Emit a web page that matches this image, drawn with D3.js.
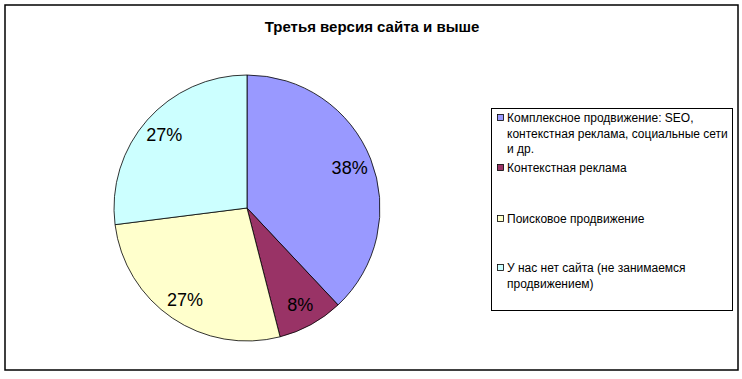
<!DOCTYPE html>
<html>
<head>
<meta charset="utf-8">
<script src="https://cdn.jsdelivr.net/npm/d3@7/dist/d3.min.js"></script>
<style>
  body { margin: 0; background: #fff; }
  text { font-family: "Liberation Sans", Arial, sans-serif; }
</style>
</head>
<body>
<script>
// pie chart: share of promotion types, third site version and up
const title = "Третья версия сайта и выше";
const categories = [
  "Комплексное продвижение: SEO, контекстная реклама, социальные сети и др.",
  "Контекстная реклама",
  "Поисковое продвижение",
  "У нас нет сайта (не занимаемся продвижением)"
];
const values = [38, 8, 27, 27];
const colors = ["#9999FF", "#993366", "#FFFFCC", "#CCFFFF"];
// legend text broken into lines as in the picture
const legendLines = [
  ["Комплексное продвижение: SEO,", "контекстная реклама, социальные сети", "и др."],
  ["Контекстная реклама"],
  ["Поисковое продвижение"],
  ["У нас нет сайта (не занимаемся", "продвижением)"]
];

const width = 742, height = 379;
const svg = d3.select("body").append("svg")
  .attr("width", width)
  .attr("height", height);

// outer frame
svg.append("rect")
  .attr("x", 5).attr("y", 5)
  .attr("width", 733).attr("height", 365)
  .attr("fill", "#fff")
  .attr("stroke", "#000")
  .attr("stroke-width", 1.5);

svg.append("text")
  .attr("x", 372).attr("y", 32)
  .attr("text-anchor", "middle")
  .attr("font-size", "15px")
  .attr("font-weight", "bold")
  .text(title);

const cx = 247, cy = 208, r = 133;
const pie = d3.pie().sort(null).value(d => d);
const arc = d3.arc().innerRadius(0).outerRadius(r);
const labelArc = d3.arc().innerRadius(r * 0.83).outerRadius(r * 0.83);

const g = svg.append("g").attr("transform", `translate(${cx},${cy})`);
const arcs = pie(values);

g.selectAll("path")
  .data(arcs)
  .join("path")
  .attr("d", arc)
  .attr("fill", (d, i) => colors[i])
  .attr("stroke", "#000")
  .attr("stroke-width", 0.8);

g.selectAll("text.pct")
  .data(arcs)
  .join("text")
  .attr("class", "pct")
  .attr("transform", d => `translate(${labelArc.centroid(d)})`)
  .attr("text-anchor", "middle")
  .attr("dy", "0.36em")
  .attr("font-size", "18px")
  .text(d => d.data + "%");

// legend
const lg = svg.append("g");
lg.append("rect")
  .attr("x", 491.5).attr("y", 108.5)
  .attr("width", 241).attr("height", 202)
  .attr("fill", "#fff")
  .attr("stroke", "#000")
  .attr("stroke-width", 1);

const itemY = [118, 168, 219, 268];
const lineH = 15.5;
legendLines.forEach((lines, i) => {
  lg.append("rect")
    .attr("x", 497.5).attr("y", itemY[i] - 3.5)
    .attr("width", 6).attr("height", 6)
    .attr("fill", colors[i])
    .attr("stroke", "#000")
    .attr("stroke-width", 0.8);
  const t = lg.append("text")
    .attr("x", 507)
    .attr("y", itemY[i])
    .attr("font-size", "12px");
  lines.forEach((s, k) => {
    t.append("tspan")
      .attr("x", 507)
      .attr("dy", k === 0 ? "0.35em" : lineH)
      .text(s);
  });
});
</script>
</body>
</html>
